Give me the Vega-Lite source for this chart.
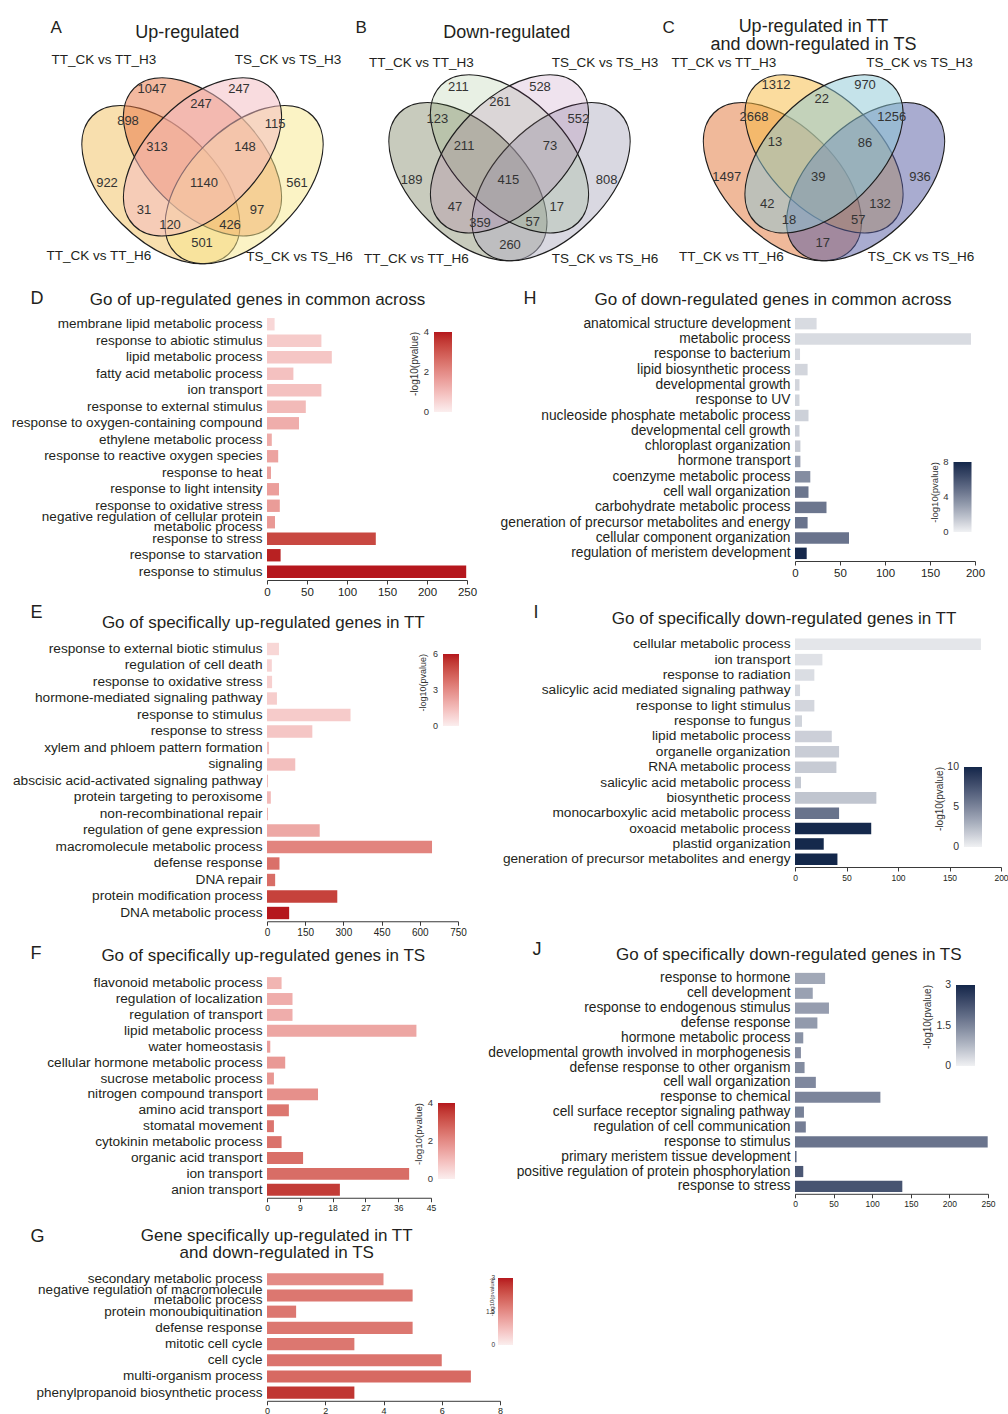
{
  "$schema": "https://vega.github.io/schema/vega-lite/v6.json",
  "background": "white",
  "padding": {"left": 11, "top": 0, "right": 0, "bottom": 0},
  "config": {
    "font": "Liberation Sans",
    "view": {"stroke": null},
    "axis": {"labelFont": "Liberation Sans", "titleFont": "Liberation Sans", "labelColor": "#231f20", "titleColor": "#231f20", "domainColor": "#3a3a3a", "tickColor": "#3a3a3a", "grid": false, "titleFontWeight": "normal"},
    "legend": {"labelFont": "Liberation Sans", "titleFont": "Liberation Sans", "labelColor": "#333333", "titleColor": "#333333", "titleFontWeight": "normal", "titleAnchor": "end", "titleAlign": "right"},
    "title": {"font": "Liberation Sans", "fontWeight": "normal", "color": "#231f20"},
    "text": {"font": "Liberation Sans"}
  },
  "datasets": {
    "venn": [
      {"panel": "A", "kind": "ellipse", "name": "TT_CK vs TT_H6", "x": 160.9, "y": 184.6},
      {"panel": "A", "kind": "ellipse", "name": "TT_CK vs TT_H3", "x": 202.5, "y": 156.9},
      {"panel": "A", "kind": "ellipse", "name": "TS_CK vs TS_H6", "x": 244.1, "y": 184.6},
      {"panel": "A", "kind": "ellipse", "name": "TS_CK vs TS_H3", "x": 202.5, "y": 156.9},
      {"panel": "A", "kind": "label", "name": "TT_CK vs TT_H3", "x": 104, "y": 60},
      {"panel": "A", "kind": "label", "name": "TS_CK vs TS_H3", "x": 288, "y": 60},
      {"panel": "A", "kind": "label", "name": "TT_CK vs TT_H6", "x": 99, "y": 256},
      {"panel": "A", "kind": "label", "name": "TS_CK vs TS_H6", "x": 299.5, "y": 257},
      {"panel": "A", "kind": "count", "name": "1047", "x": 152, "y": 89},
      {"panel": "A", "kind": "count", "name": "247", "x": 239, "y": 89},
      {"panel": "A", "kind": "count", "name": "247", "x": 201, "y": 104},
      {"panel": "A", "kind": "count", "name": "898", "x": 128, "y": 121},
      {"panel": "A", "kind": "count", "name": "115", "x": 275, "y": 124},
      {"panel": "A", "kind": "count", "name": "313", "x": 157, "y": 147},
      {"panel": "A", "kind": "count", "name": "148", "x": 245, "y": 147},
      {"panel": "A", "kind": "count", "name": "922", "x": 107, "y": 183},
      {"panel": "A", "kind": "count", "name": "1140", "x": 204, "y": 183},
      {"panel": "A", "kind": "count", "name": "561", "x": 297, "y": 183},
      {"panel": "A", "kind": "count", "name": "31", "x": 144, "y": 210},
      {"panel": "A", "kind": "count", "name": "97", "x": 257, "y": 210},
      {"panel": "A", "kind": "count", "name": "120", "x": 170, "y": 225},
      {"panel": "A", "kind": "count", "name": "426", "x": 230, "y": 225},
      {"panel": "A", "kind": "count", "name": "501", "x": 202, "y": 243},
      {"panel": "B", "kind": "ellipse", "name": "TT_CK vs TT_H6", "x": 467.9, "y": 181.6},
      {"panel": "B", "kind": "ellipse", "name": "TT_CK vs TT_H3", "x": 509.5, "y": 153.9},
      {"panel": "B", "kind": "ellipse", "name": "TS_CK vs TS_H6", "x": 551.1, "y": 181.6},
      {"panel": "B", "kind": "ellipse", "name": "TS_CK vs TS_H3", "x": 509.5, "y": 153.9},
      {"panel": "B", "kind": "label", "name": "TT_CK vs TT_H3", "x": 421.5, "y": 63},
      {"panel": "B", "kind": "label", "name": "TS_CK vs TS_H3", "x": 605, "y": 63},
      {"panel": "B", "kind": "label", "name": "TT_CK vs TT_H6", "x": 416.5, "y": 259},
      {"panel": "B", "kind": "label", "name": "TS_CK vs TS_H6", "x": 605, "y": 259},
      {"panel": "B", "kind": "count", "name": "211", "x": 458.3, "y": 87.3},
      {"panel": "B", "kind": "count", "name": "528", "x": 540, "y": 87.3},
      {"panel": "B", "kind": "count", "name": "261", "x": 500, "y": 101.7},
      {"panel": "B", "kind": "count", "name": "123", "x": 437.3, "y": 119},
      {"panel": "B", "kind": "count", "name": "552", "x": 578.3, "y": 119},
      {"panel": "B", "kind": "count", "name": "211", "x": 464, "y": 146},
      {"panel": "B", "kind": "count", "name": "73", "x": 550, "y": 146},
      {"panel": "B", "kind": "count", "name": "189", "x": 411.7, "y": 180},
      {"panel": "B", "kind": "count", "name": "415", "x": 508.3, "y": 180},
      {"panel": "B", "kind": "count", "name": "808", "x": 606.7, "y": 180},
      {"panel": "B", "kind": "count", "name": "47", "x": 455, "y": 207.3},
      {"panel": "B", "kind": "count", "name": "17", "x": 556.7, "y": 207.3},
      {"panel": "B", "kind": "count", "name": "359", "x": 480, "y": 223.3},
      {"panel": "B", "kind": "count", "name": "57", "x": 532.7, "y": 221.7},
      {"panel": "B", "kind": "count", "name": "260", "x": 510, "y": 245},
      {"panel": "C", "kind": "ellipse", "name": "TT_CK vs TT_H6", "x": 782.4, "y": 181.6},
      {"panel": "C", "kind": "ellipse", "name": "TT_CK vs TT_H3", "x": 824, "y": 153.9},
      {"panel": "C", "kind": "ellipse", "name": "TS_CK vs TS_H6", "x": 865.6, "y": 181.6},
      {"panel": "C", "kind": "ellipse", "name": "TS_CK vs TS_H3", "x": 824, "y": 153.9},
      {"panel": "C", "kind": "label", "name": "TT_CK vs TT_H3", "x": 724, "y": 63},
      {"panel": "C", "kind": "label", "name": "TS_CK vs TS_H3", "x": 919.5, "y": 63},
      {"panel": "C", "kind": "label", "name": "TT_CK vs TT_H6", "x": 731.5, "y": 257},
      {"panel": "C", "kind": "label", "name": "TS_CK vs TS_H6", "x": 921, "y": 257},
      {"panel": "C", "kind": "count", "name": "1312", "x": 776, "y": 85},
      {"panel": "C", "kind": "count", "name": "970", "x": 865, "y": 85},
      {"panel": "C", "kind": "count", "name": "22", "x": 821.7, "y": 99.3},
      {"panel": "C", "kind": "count", "name": "2668", "x": 754, "y": 116.7},
      {"panel": "C", "kind": "count", "name": "1256", "x": 891.7, "y": 116.7},
      {"panel": "C", "kind": "count", "name": "13", "x": 775, "y": 141.7},
      {"panel": "C", "kind": "count", "name": "86", "x": 865, "y": 142.7},
      {"panel": "C", "kind": "count", "name": "1497", "x": 726.7, "y": 176.7},
      {"panel": "C", "kind": "count", "name": "39", "x": 818.3, "y": 176.7},
      {"panel": "C", "kind": "count", "name": "936", "x": 920, "y": 176.7},
      {"panel": "C", "kind": "count", "name": "42", "x": 767.3, "y": 204},
      {"panel": "C", "kind": "count", "name": "132", "x": 880, "y": 204},
      {"panel": "C", "kind": "count", "name": "18", "x": 789, "y": 220},
      {"panel": "C", "kind": "count", "name": "57", "x": 858.3, "y": 220},
      {"panel": "C", "kind": "count", "name": "17", "x": 822.7, "y": 242.7}
    ],
    "D": [
      {"term": "membrane lipid metabolic process", "count": 9.5, "nlp": 0.45},
      {"term": "response to abiotic stimulus", "count": 68, "nlp": 0.7},
      {"term": "lipid metabolic process", "count": 81, "nlp": 0.8},
      {"term": "fatty acid metabolic process", "count": 33, "nlp": 0.9},
      {"term": "ion transport", "count": 68, "nlp": 0.9},
      {"term": "response to external stimulus", "count": 48.5, "nlp": 1.05},
      {"term": "response to oxygen-containing compound", "count": 40, "nlp": 1.3},
      {"term": "ethylene metabolic process", "count": 6, "nlp": 1.35},
      {"term": "response to reactive oxygen species", "count": 14, "nlp": 1.5},
      {"term": "response to heat", "count": 5, "nlp": 1.55},
      {"term": "response to light intensity", "count": 15, "nlp": 1.6},
      {"term": "response to oxidative stress", "count": 16, "nlp": 1.65},
      {"term": "negative regulation of cellular protein metabolic process", "count": 10, "nlp": 1.7},
      {"term": "response to stress", "count": 136, "nlp": 3.3},
      {"term": "response to starvation", "count": 17, "nlp": 3.9},
      {"term": "response to stimulus", "count": 249, "nlp": 4.0}
    ],
    "H": [
      {"term": "anatomical structure development", "count": 24, "nlp": 0.8},
      {"term": "metabolic process", "count": 195.5, "nlp": 0.8},
      {"term": "response to bacterium", "count": 5.6, "nlp": 0.9},
      {"term": "lipid biosynthetic process", "count": 14, "nlp": 1.0},
      {"term": "developmental growth", "count": 5, "nlp": 1.0},
      {"term": "response to UV", "count": 5, "nlp": 1.05},
      {"term": "nucleoside phosphate metabolic process", "count": 15, "nlp": 1.15},
      {"term": "developmental cell growth", "count": 5, "nlp": 1.25},
      {"term": "chloroplast organization", "count": 6, "nlp": 1.4},
      {"term": "hormone transport", "count": 6, "nlp": 2.8},
      {"term": "coenzyme metabolic process", "count": 17, "nlp": 3.7},
      {"term": "cell wall organization", "count": 15, "nlp": 4.6},
      {"term": "carbohydrate metabolic process", "count": 35, "nlp": 4.6},
      {"term": "generation of precursor metabolites and energy", "count": 14, "nlp": 4.7},
      {"term": "cellular component organization", "count": 60, "nlp": 4.7},
      {"term": "regulation of meristem development", "count": 13, "nlp": 7.9}
    ],
    "E": [
      {"term": "response to external biotic stimulus", "count": 47, "nlp": 0.7},
      {"term": "regulation of cell death", "count": 19, "nlp": 0.8},
      {"term": "response to oxidative stress", "count": 20, "nlp": 0.9},
      {"term": "hormone-mediated signaling pathway", "count": 39, "nlp": 1.0},
      {"term": "response to stimulus", "count": 328, "nlp": 1.05},
      {"term": "response to stress", "count": 178, "nlp": 1.2},
      {"term": "xylem and phloem pattern formation", "count": 8, "nlp": 1.3},
      {"term": "signaling", "count": 111, "nlp": 1.4},
      {"term": "abscisic acid-activated signaling pathway", "count": 4, "nlp": 1.5},
      {"term": "protein targeting to peroxisome", "count": 15, "nlp": 1.6},
      {"term": "non-recombinational repair", "count": 4, "nlp": 1.75},
      {"term": "regulation of gene expression", "count": 207, "nlp": 2.1},
      {"term": "macromolecule metabolic process", "count": 648, "nlp": 3.2},
      {"term": "defense response", "count": 49, "nlp": 3.8},
      {"term": "DNA repair", "count": 32, "nlp": 3.9},
      {"term": "protein modification process", "count": 276, "nlp": 5.1},
      {"term": "DNA metabolic process", "count": 87, "nlp": 6.0}
    ],
    "I": [
      {"term": "cellular metabolic process", "count": 180.5, "nlp": 0.5},
      {"term": "ion transport", "count": 26.6, "nlp": 0.7},
      {"term": "response to radiation", "count": 18.8, "nlp": 0.9},
      {"term": "salicylic acid mediated signaling pathway", "count": 4.9, "nlp": 1.1},
      {"term": "response to light stimulus", "count": 18.8, "nlp": 1.2},
      {"term": "response to fungus", "count": 6.8, "nlp": 1.3},
      {"term": "lipid metabolic process", "count": 35.7, "nlp": 1.5},
      {"term": "organelle organization", "count": 42.8, "nlp": 1.6},
      {"term": "RNA metabolic process", "count": 40.2, "nlp": 1.7},
      {"term": "salicylic acid metabolic process", "count": 5.8, "nlp": 1.8},
      {"term": "biosynthetic process", "count": 79, "nlp": 2.0},
      {"term": "monocarboxylic acid metabolic process", "count": 42.8, "nlp": 5.9},
      {"term": "oxoacid metabolic process", "count": 74, "nlp": 9.9},
      {"term": "plastid organization", "count": 27.9, "nlp": 9.9},
      {"term": "generation of precursor metabolites and energy", "count": 41.2, "nlp": 10}
    ],
    "F": [
      {"term": "flavonoid metabolic process", "count": 4, "nlp": 1.15},
      {"term": "regulation of localization", "count": 7, "nlp": 1.3},
      {"term": "regulation of transport", "count": 7, "nlp": 1.3},
      {"term": "lipid metabolic process", "count": 41, "nlp": 1.45},
      {"term": "water homeostasis", "count": 0.9, "nlp": 1.6},
      {"term": "cellular hormone metabolic process", "count": 5, "nlp": 1.7},
      {"term": "sucrose metabolic process", "count": 1.9, "nlp": 1.75},
      {"term": "nitrogen compound transport", "count": 14, "nlp": 1.9},
      {"term": "amino acid transport", "count": 6, "nlp": 2.4},
      {"term": "stomatal movement", "count": 1.9, "nlp": 2.45},
      {"term": "cytokinin metabolic process", "count": 4, "nlp": 2.5},
      {"term": "organic acid transport", "count": 9.9, "nlp": 2.55},
      {"term": "ion transport", "count": 39, "nlp": 2.6},
      {"term": "anion transport", "count": 20, "nlp": 3.5}
    ],
    "J": [
      {"term": "response to hormone", "count": 39, "nlp": 1.0},
      {"term": "cell development", "count": 23, "nlp": 1.1},
      {"term": "response to endogenous stimulus", "count": 44, "nlp": 1.15},
      {"term": "defense response", "count": 29, "nlp": 1.2},
      {"term": "hormone metabolic process", "count": 10.7, "nlp": 1.3},
      {"term": "developmental growth involved in morphogenesis", "count": 7.7, "nlp": 1.35},
      {"term": "defense response to other organism", "count": 12.4, "nlp": 1.4},
      {"term": "cell wall organization", "count": 27, "nlp": 1.45},
      {"term": "response to chemical", "count": 110.6, "nlp": 1.5},
      {"term": "cell surface receptor signaling pathway", "count": 11.6, "nlp": 1.55},
      {"term": "regulation of cell communication", "count": 14, "nlp": 1.6},
      {"term": "response to stimulus", "count": 249.6, "nlp": 1.75},
      {"term": "primary meristem tissue development", "count": 2, "nlp": 1.9},
      {"term": "positive regulation of protein phosphorylation", "count": 10.7, "nlp": 2.2},
      {"term": "response to stress", "count": 139, "nlp": 2.25}
    ],
    "G": [
      {"term": "secondary metabolic process", "count": 4, "nlp": 1.5},
      {"term": "negative regulation of macromolecule metabolic process", "count": 5, "nlp": 1.8},
      {"term": "protein monoubiquitination", "count": 1, "nlp": 1.8},
      {"term": "defense response", "count": 5, "nlp": 1.8},
      {"term": "mitotic cell cycle", "count": 3, "nlp": 1.8},
      {"term": "cell cycle", "count": 6, "nlp": 1.85},
      {"term": "multi-organism process", "count": 7, "nlp": 2.0},
      {"term": "phenylpropanoid biosynthetic process", "count": 3, "nlp": 2.7}
    ]
  },
  "spacing": 19,
  "vconcat": [
    {
      "hconcat": [
        {
          "width": 69, "height": 270,
          "title": {"text": "Up-regulated", "fontSize": 18, "anchor": "middle", "frame": "group", "dx": -114.2, "offset": -42},
          "data": {"name": "venn"},
          "transform": [{"filter": "datum.panel == 'A'"}],
          "encoding": {
            "x": {"field": "x", "type": "quantitative", "scale": {"domain": [267, 336], "nice": false, "zero": false},
                  "axis": {"orient": "top", "title": "A", "domain": false, "ticks": false, "labels": false, "grid": false, "titleX": -217, "titleY": 32, "titleAngle": 0, "titleAlign": "left", "titleBaseline": "alphabetic", "titleFontSize": 17}},
            "y": {"field": "y", "type": "quantitative", "scale": {"domain": [0, 270], "reverse": true, "nice": false, "zero": false}, "axis": null},
            "color": {"field": "name", "type": "nominal", "scale": {"domain": ["TT_CK vs TT_H3", "TS_CK vs TS_H3", "TT_CK vs TT_H6", "TS_CK vs TS_H6"], "range": ["#e77341", "#f3b9bf", "#f1bf5d", "#f7e78b"]}, "legend": null}
          },
          "layer": [
            {"transform": [{"filter": "datum.kind == 'ellipse' && datum.name == 'TT_CK vs TT_H6'"}],
             "mark": {"type": "point", "shape": "M 0.97 0 C 0.97 0.306 0.5357 0.554 0 0.554 C -0.5357 0.554 -0.97 0.306 -0.97 0 C -0.97 -0.306 -0.5357 -0.554 0 -0.554 C 0.5357 -0.554 0.97 -0.306 0.97 0 Z", "size": 40000, "angle": 45, "filled": true, "opacity": 1, "fillOpacity": 0.5, "stroke": "#1e1e1e", "strokeWidth": 1.2}},
            {"transform": [{"filter": "datum.kind == 'ellipse' && datum.name == 'TT_CK vs TT_H3'"}],
             "mark": {"type": "point", "shape": "M 0.97 0 C 0.97 0.306 0.5357 0.554 0 0.554 C -0.5357 0.554 -0.97 0.306 -0.97 0 C -0.97 -0.306 -0.5357 -0.554 0 -0.554 C 0.5357 -0.554 0.97 -0.306 0.97 0 Z", "size": 40000, "angle": 45, "filled": true, "opacity": 1, "fillOpacity": 0.5, "stroke": "#1e1e1e", "strokeWidth": 1.2}},
            {"transform": [{"filter": "datum.kind == 'ellipse' && datum.name == 'TS_CK vs TS_H6'"}],
             "mark": {"type": "point", "shape": "M 0.97 0 C 0.97 0.306 0.5357 0.554 0 0.554 C -0.5357 0.554 -0.97 0.306 -0.97 0 C -0.97 -0.306 -0.5357 -0.554 0 -0.554 C 0.5357 -0.554 0.97 -0.306 0.97 0 Z", "size": 40000, "angle": 315, "filled": true, "opacity": 1, "fillOpacity": 0.5, "stroke": "#1e1e1e", "strokeWidth": 1.2}},
            {"transform": [{"filter": "datum.kind == 'ellipse' && datum.name == 'TS_CK vs TS_H3'"}],
             "mark": {"type": "point", "shape": "M 0.97 0 C 0.97 0.306 0.5357 0.554 0 0.554 C -0.5357 0.554 -0.97 0.306 -0.97 0 C -0.97 -0.306 -0.5357 -0.554 0 -0.554 C 0.5357 -0.554 0.97 -0.306 0.97 0 Z", "size": 40000, "angle": 315, "filled": true, "opacity": 1, "fillOpacity": 0.5, "stroke": "#1e1e1e", "strokeWidth": 1.2}},
            {"transform": [{"filter": "datum.kind == 'count'"}],
             "mark": {"type": "text", "fontSize": 13, "color": "#333333", "baseline": "middle"},
             "encoding": {"text": {"field": "name", "type": "nominal"}, "color": {"value": "#333333"}}},
            {"transform": [{"filter": "datum.kind == 'label'"}],
             "mark": {"type": "text", "fontSize": 13.5, "color": "#231f20", "baseline": "middle"},
             "encoding": {"text": {"field": "name", "type": "nominal"}, "color": {"value": "#231f20"}}}
          ]
        },
        {
          "width": 336, "height": 270,
          "title": {"text": "Down-regulated", "fontSize": 18, "anchor": "middle", "frame": "group", "dx": 2.7, "offset": -42},
          "data": {"name": "venn"},
          "transform": [{"filter": "datum.panel == 'B'"}],
          "encoding": {
            "x": {"field": "x", "type": "quantitative", "scale": {"domain": [336, 672], "nice": false, "zero": false},
                  "axis": {"orient": "top", "title": "B", "domain": false, "ticks": false, "labels": false, "grid": false, "titleX": 19, "titleY": 32, "titleAngle": 0, "titleAlign": "left", "titleBaseline": "alphabetic", "titleFontSize": 17}},
            "y": {"field": "y", "type": "quantitative", "scale": {"domain": [0, 270], "reverse": true, "nice": false, "zero": false}, "axis": null},
            "color": {"field": "name", "type": "nominal", "scale": {"domain": ["TT_CK vs TT_H3", "TS_CK vs TS_H3", "TT_CK vs TT_H6", "TS_CK vs TS_H6"], "range": ["#659b4b", "#94448e", "#91977b", "#b3b1c3"]}, "legend": null}
          },
          "layer": [
            {"transform": [{"filter": "datum.kind == 'ellipse' && datum.name == 'TT_CK vs TT_H6'"}],
             "mark": {"type": "point", "shape": "M 0.97 0 C 0.97 0.306 0.5357 0.554 0 0.554 C -0.5357 0.554 -0.97 0.306 -0.97 0 C -0.97 -0.306 -0.5357 -0.554 0 -0.554 C 0.5357 -0.554 0.97 -0.306 0.97 0 Z", "size": 40000, "angle": 45, "filled": true, "opacity": 1, "fillOpacity": 0.5, "stroke": "#1e1e1e", "strokeWidth": 1.2}},
            {"transform": [{"filter": "datum.kind == 'ellipse' && datum.name == 'TS_CK vs TS_H6'"}],
             "mark": {"type": "point", "shape": "M 0.97 0 C 0.97 0.306 0.5357 0.554 0 0.554 C -0.5357 0.554 -0.97 0.306 -0.97 0 C -0.97 -0.306 -0.5357 -0.554 0 -0.554 C 0.5357 -0.554 0.97 -0.306 0.97 0 Z", "size": 40000, "angle": 315, "filled": true, "opacity": 1, "fillOpacity": 0.5, "stroke": "#1e1e1e", "strokeWidth": 1.2}},
            {"transform": [{"filter": "datum.kind == 'ellipse' && datum.name == 'TT_CK vs TT_H3'"}],
             "mark": {"type": "point", "shape": "M 0.97 0 C 0.97 0.306 0.5357 0.554 0 0.554 C -0.5357 0.554 -0.97 0.306 -0.97 0 C -0.97 -0.306 -0.5357 -0.554 0 -0.554 C 0.5357 -0.554 0.97 -0.306 0.97 0 Z", "size": 40000, "angle": 45, "filled": true, "opacity": 1, "fillOpacity": 0.15, "stroke": "#1e1e1e", "strokeWidth": 1.2}},
            {"transform": [{"filter": "datum.kind == 'ellipse' && datum.name == 'TS_CK vs TS_H3'"}],
             "mark": {"type": "point", "shape": "M 0.97 0 C 0.97 0.306 0.5357 0.554 0 0.554 C -0.5357 0.554 -0.97 0.306 -0.97 0 C -0.97 -0.306 -0.5357 -0.554 0 -0.554 C 0.5357 -0.554 0.97 -0.306 0.97 0 Z", "size": 40000, "angle": 315, "filled": true, "opacity": 1, "fillOpacity": 0.15, "stroke": "#1e1e1e", "strokeWidth": 1.2}},
            {"transform": [{"filter": "datum.kind == 'count'"}],
             "mark": {"type": "text", "fontSize": 13, "color": "#333333", "baseline": "middle"},
             "encoding": {"text": {"field": "name", "type": "nominal"}, "color": {"value": "#333333"}}},
            {"transform": [{"filter": "datum.kind == 'label'"}],
             "mark": {"type": "text", "fontSize": 13.5, "color": "#231f20", "baseline": "middle"},
             "encoding": {"text": {"field": "name", "type": "nominal"}, "color": {"value": "#231f20"}}}
          ]
        },
        {
          "width": 336, "height": 270,
          "title": {"text": ["Up-regulated in TT", "and down-regulated in TS"], "fontSize": 18, "lineHeight": 18, "anchor": "middle", "frame": "group", "dx": -26.5, "offset": -54},
          "data": {"name": "venn"},
          "transform": [{"filter": "datum.panel == 'C'"}],
          "encoding": {
            "x": {"field": "x", "type": "quantitative", "scale": {"domain": [672, 1008], "nice": false, "zero": false},
                  "axis": {"orient": "top", "title": "C", "domain": false, "ticks": false, "labels": false, "grid": false, "titleX": -10, "titleY": 32, "titleAngle": 0, "titleAlign": "left", "titleBaseline": "alphabetic", "titleFontSize": 17}},
            "y": {"field": "y", "type": "quantitative", "scale": {"domain": [0, 270], "reverse": true, "nice": false, "zero": false}, "axis": null},
            "color": {"field": "name", "type": "nominal", "scale": {"domain": ["TT_CK vs TT_H3", "TS_CK vs TS_H3", "TT_CK vs TT_H6", "TS_CK vs TS_H6"], "range": ["#f7b93d", "#8bc7d5", "#e17335", "#5359a1"]}, "legend": null}
          },
          "layer": [
            {"transform": [{"filter": "datum.kind == 'ellipse' && datum.name == 'TT_CK vs TT_H6'"}],
             "mark": {"type": "point", "shape": "M 0.97 0 C 0.97 0.306 0.5357 0.554 0 0.554 C -0.5357 0.554 -0.97 0.306 -0.97 0 C -0.97 -0.306 -0.5357 -0.554 0 -0.554 C 0.5357 -0.554 0.97 -0.306 0.97 0 Z", "size": 40000, "angle": 45, "filled": true, "opacity": 1, "fillOpacity": 0.5, "stroke": "#1e1e1e", "strokeWidth": 1.2}},
            {"transform": [{"filter": "datum.kind == 'ellipse' && datum.name == 'TT_CK vs TT_H3'"}],
             "mark": {"type": "point", "shape": "M 0.97 0 C 0.97 0.306 0.5357 0.554 0 0.554 C -0.5357 0.554 -0.97 0.306 -0.97 0 C -0.97 -0.306 -0.5357 -0.554 0 -0.554 C 0.5357 -0.554 0.97 -0.306 0.97 0 Z", "size": 40000, "angle": 45, "filled": true, "opacity": 1, "fillOpacity": 0.5, "stroke": "#1e1e1e", "strokeWidth": 1.2}},
            {"transform": [{"filter": "datum.kind == 'ellipse' && datum.name == 'TS_CK vs TS_H6'"}],
             "mark": {"type": "point", "shape": "M 0.97 0 C 0.97 0.306 0.5357 0.554 0 0.554 C -0.5357 0.554 -0.97 0.306 -0.97 0 C -0.97 -0.306 -0.5357 -0.554 0 -0.554 C 0.5357 -0.554 0.97 -0.306 0.97 0 Z", "size": 40000, "angle": 315, "filled": true, "opacity": 1, "fillOpacity": 0.5, "stroke": "#1e1e1e", "strokeWidth": 1.2}},
            {"transform": [{"filter": "datum.kind == 'ellipse' && datum.name == 'TS_CK vs TS_H3'"}],
             "mark": {"type": "point", "shape": "M 0.97 0 C 0.97 0.306 0.5357 0.554 0 0.554 C -0.5357 0.554 -0.97 0.306 -0.97 0 C -0.97 -0.306 -0.5357 -0.554 0 -0.554 C 0.5357 -0.554 0.97 -0.306 0.97 0 Z", "size": 40000, "angle": 315, "filled": true, "opacity": 1, "fillOpacity": 0.5, "stroke": "#1e1e1e", "strokeWidth": 1.2}},
            {"transform": [{"filter": "datum.kind == 'count'"}],
             "mark": {"type": "text", "fontSize": 13, "color": "#333333", "baseline": "middle"},
             "encoding": {"text": {"field": "name", "type": "nominal"}, "color": {"value": "#333333"}}},
            {"transform": [{"filter": "datum.kind == 'label'"}],
             "mark": {"type": "text", "fontSize": 13.5, "color": "#231f20", "baseline": "middle"},
             "encoding": {"text": {"field": "name", "type": "nominal"}, "color": {"value": "#231f20"}}}
          ]
        }
      ],
      "spacing": 0,
      "bounds": "flush",
      "resolve": {"scale": {"color": "independent"}}
    },
    {
      "columns": 2,
      "bounds": "flush",
      "align": "each",
      "spacing": {"row": 49, "column": 295},
      "resolve": {"scale": {"color": "independent"}, "legend": {"color": "independent"}},
      "concat": [
        {
          "width": 200, "height": 264,
          "data": {"name": "D"},
          "title": {"text": "Go of up-regulated genes in common across", "fontSize": 17, "anchor": "middle", "frame": "group", "dx": -109.5, "offset": -20},
          "mark": {"type": "bar"},
          "encoding": {
            "y": {"field": "term", "type": "nominal", "sort": null, "scale": {"paddingInner": 0.25, "paddingOuter": 0.125, "align": 0.5},
                  "axis": {"title": "D", "titleAngle": 0, "titleX": -237, "titleY": -13, "titleAlign": "left", "titleBaseline": "alphabetic", "titleFontSize": 18, "domain": false, "ticks": false, "labelFontSize": 13.5, "labelPadding": 5, "labelLimit": 400, "labelLineHeight": 10,
                           "labelOffset": {"condition": {"test": "datum.value == 'negative regulation of cellular protein metabolic process'", "value": -5}, "value": 0},
                           "labelExpr": "datum.label == 'negative regulation of cellular protein metabolic process' ? ['negative regulation of cellular protein', 'metabolic process'] : datum.label"}},
            "x": {"field": "count", "type": "quantitative", "scale": {"domain": [0, 250], "nice": false},
                  "axis": {"title": null, "values": [0, 50, 100, 150, 200, 250], "labelFontSize": 11.5, "tickSize": 4, "labelFlush": false, "labelOverlap": false}},
            "color": {"field": "nlp", "type": "quantitative", "scale": {"domain": [0, 4], "range": ["#fbeeee", "#b5171d"]},
                      "legend": {"orient": "none", "legendX": 143, "legendY": 16, "direction": "vertical", "gradientLength": 80, "gradientThickness": 18, "values": [0, 2, 4], "labelExpr": "'' + datum.value", "title": "-log10(pvalue)", "titleOrient": "left", "titlePadding": 13, "titleFontSize": 10, "labelFontSize": 9.5, "labelOffset": -23, "gradientStrokeWidth": 0,
                                 "encode": {"title": {"update": {"angle": {"value": -90}}}, "labels": {"update": {"align": {"value": "right"}, "baseline": {"value": "middle"}}}}}}
          }
        },
        {
          "width": 180, "height": 245,
          "data": {"name": "H"},
          "title": {"text": "Go of down-regulated genes in common across", "fontSize": 17, "anchor": "middle", "frame": "group", "dx": -112, "offset": -20},
          "mark": {"type": "bar"},
          "encoding": {
            "y": {"field": "term", "type": "nominal", "sort": null, "scale": {"paddingInner": 0.25, "paddingOuter": 0.125, "align": 0.5},
                  "axis": {"title": "H", "titleAngle": 0, "titleX": -272, "titleY": -13, "titleAlign": "left", "titleBaseline": "alphabetic", "titleFontSize": 18, "domain": false, "ticks": false, "labelFontSize": 13.8, "labelPadding": 5, "labelLimit": 400}},
            "x": {"field": "count", "type": "quantitative", "scale": {"domain": [0, 200], "nice": false},
                  "axis": {"title": null, "values": [0, 50, 100, 150, 200], "labelFontSize": 11.5, "tickSize": 4, "labelFlush": false, "labelOverlap": false}},
            "color": {"field": "nlp", "type": "quantitative", "scale": {"domain": [0, 8], "range": ["#f0f1f3", "#13274a"]},
                      "legend": {"orient": "none", "legendX": 135, "legendY": 146, "direction": "vertical", "gradientLength": 70, "gradientThickness": 18, "values": [0, 4, 8], "labelExpr": "'' + datum.value", "title": "-log10(pvalue)", "titleOrient": "left", "titlePadding": 13.5, "titleFontSize": 9.5, "labelFontSize": 9.5, "labelOffset": -23, "gradientStrokeWidth": 0,
                                 "encode": {"title": {"update": {"angle": {"value": -90}}}, "labels": {"update": {"align": {"value": "right"}, "baseline": {"value": "middle"}}}}}}
          }
        },
        {
          "width": 191, "height": 292.25,
          "data": {"name": "E"},
          "title": {"text": "Go of specifically up-regulated genes in TT", "fontSize": 17, "anchor": "middle", "frame": "group", "dx": -99.2, "offset": -29},
          "mark": {"type": "bar"},
          "encoding": {
            "y": {"field": "term", "type": "nominal", "sort": null, "scale": {"paddingInner": 0.25, "paddingOuter": 0.481, "align": 0.87},
                  "axis": {"title": "E", "titleAngle": 0, "titleX": -237, "titleY": -12, "titleAlign": "left", "titleBaseline": "alphabetic", "titleFontSize": 18, "domain": false, "ticks": false, "labelFontSize": 13.7, "labelPadding": 5, "labelLimit": 400}},
            "x": {"field": "count", "type": "quantitative", "scale": {"domain": [0, 750], "nice": false},
                  "axis": {"title": null, "values": [0, 150, 300, 450, 600, 750], "labelFontSize": 10, "tickSize": 4, "labelFlush": false, "labelOverlap": false}},
            "color": {"field": "nlp", "type": "quantitative", "scale": {"domain": [0, 6], "range": ["#fbeeee", "#b5171d"]},
                      "legend": {"orient": "none", "legendX": 152, "legendY": 25, "direction": "vertical", "gradientLength": 72, "gradientThickness": 16, "values": [0, 3, 6], "labelExpr": "'' + datum.value", "title": "-log10(pvalue)", "titleOrient": "left", "titlePadding": 14, "titleFontSize": 9, "labelFontSize": 9, "labelOffset": -21, "gradientStrokeWidth": 0,
                                 "encode": {"title": {"update": {"angle": {"value": -90}}}, "labels": {"update": {"align": {"value": "right"}, "baseline": {"value": "middle"}}}}}}
          }
        },
        {
          "width": 206, "height": 238,
          "data": {"name": "I"},
          "title": {"text": "Go of specifically down-regulated genes in TT", "fontSize": 17, "anchor": "middle", "frame": "group", "dx": -113.9, "offset": -25},
          "mark": {"type": "bar"},
          "encoding": {
            "y": {"field": "term", "type": "nominal", "sort": null, "scale": {"paddingInner": 0.25, "paddingOuter": 0.3724, "align": 0.832},
                  "axis": {"title": "I", "titleAngle": 0, "titleX": -262, "titleY": -12, "titleAlign": "left", "titleBaseline": "alphabetic", "titleFontSize": 18, "domain": false, "ticks": false, "labelFontSize": 13.7, "labelPadding": 5, "labelLimit": 400}},
            "x": {"field": "count", "type": "quantitative", "scale": {"domain": [0, 200], "nice": false},
                  "axis": {"title": null, "values": [0, 50, 100, 150, 200], "labelFontSize": 8.5, "tickSize": 4, "labelFlush": false, "labelOverlap": false}},
            "color": {"field": "nlp", "type": "quantitative", "scale": {"domain": [0, 10], "range": ["#f0f1f3", "#13274a"]},
                      "legend": {"orient": "none", "legendX": 140, "legendY": 138, "direction": "vertical", "gradientLength": 80, "gradientThickness": 18, "values": [0, 5, 10], "labelExpr": "'' + datum.value", "title": "-log10(pvalue)", "titleOrient": "left", "titlePadding": 18, "titleFontSize": 10, "labelFontSize": 10.5, "labelOffset": -23, "gradientStrokeWidth": 0,
                                 "encode": {"title": {"update": {"angle": {"value": -90}}}, "labels": {"update": {"align": {"value": "right"}, "baseline": {"value": "middle"}}}}}}
          }
        },
        {
          "width": 164, "height": 226.75,
          "data": {"name": "F"},
          "title": {"text": "Go of specifically up-regulated genes in TS", "fontSize": 17, "anchor": "middle", "frame": "group", "dx": -85.7, "offset": -20},
          "mark": {"type": "bar"},
          "encoding": {
            "y": {"field": "term", "type": "nominal", "sort": null, "scale": {"paddingInner": 0.25, "paddingOuter": 0.2555, "align": 0.7554},
                  "axis": {"title": "F", "titleAngle": 0, "titleX": -237, "titleY": -12.25, "titleAlign": "left", "titleBaseline": "alphabetic", "titleFontSize": 18, "domain": false, "ticks": false, "labelFontSize": 13.7, "labelPadding": 5, "labelLimit": 400}},
            "x": {"field": "count", "type": "quantitative", "scale": {"domain": [0, 45], "nice": false},
                  "axis": {"title": null, "values": [0, 9, 18, 27, 36, 45], "labelFontSize": 8.5, "tickSize": 4, "labelFlush": false, "labelOverlap": false}},
            "color": {"field": "nlp", "type": "quantitative", "scale": {"domain": [0, 4], "range": ["#fbeeee", "#b5171d"]},
                      "legend": {"orient": "none", "legendX": 147, "legendY": 132, "direction": "vertical", "gradientLength": 76, "gradientThickness": 17, "values": [0, 2, 4], "labelExpr": "'' + datum.value", "title": "-log10(pvalue)", "titleOrient": "left", "titlePadding": 14, "titleFontSize": 9.7, "labelFontSize": 9.5, "labelOffset": -22, "gradientStrokeWidth": 0,
                                 "encode": {"title": {"update": {"angle": {"value": -90}}}, "labels": {"update": {"align": {"value": "right"}, "baseline": {"value": "middle"}}}}}}
          }
        },
        {
          "width": 193, "height": 222.8,
          "data": {"name": "J"},
          "title": {"text": "Go of specifically down-regulated genes in TS", "fontSize": 17, "anchor": "middle", "frame": "group", "dx": -102.7, "offset": -24},
          "mark": {"type": "bar"},
          "encoding": {
            "y": {"field": "term", "type": "nominal", "sort": null, "scale": {"paddingInner": 0.25, "paddingOuter": 0.125, "align": 0.5},
                  "axis": {"title": "J", "titleAngle": 0, "titleX": -263, "titleY": -17, "titleAlign": "left", "titleBaseline": "alphabetic", "titleFontSize": 18, "domain": false, "ticks": false, "labelFontSize": 13.8, "labelPadding": 5, "labelLimit": 400}},
            "x": {"field": "count", "type": "quantitative", "scale": {"domain": [0, 250], "nice": false},
                  "axis": {"title": null, "values": [0, 50, 100, 150, 200, 250], "labelFontSize": 8.5, "tickSize": 4, "labelFlush": false, "labelOverlap": false}},
            "color": {"field": "nlp", "type": "quantitative", "scale": {"domain": [0, 3], "range": ["#f0f1f3", "#13274a"]},
                      "legend": {"orient": "none", "legendX": 128, "legendY": 14, "direction": "vertical", "gradientLength": 81, "gradientThickness": 19, "values": [0, 1.5, 3], "labelExpr": "'' + datum.value", "title": "-log10(pvalue)", "titleOrient": "left", "titlePadding": 22, "titleFontSize": 10, "labelFontSize": 10.5, "labelOffset": -24, "gradientStrokeWidth": 0,
                                 "encode": {"title": {"update": {"angle": {"value": -90}}}, "labels": {"update": {"align": {"value": "right"}, "baseline": {"value": "middle"}}}}}}
          }
        },
        {
          "width": 233, "height": 153.8,
          "data": {"name": "G"},
          "title": {"text": ["Gene specifically up-regulated in TT", "and down-regulated in TS"], "fontSize": 17, "lineHeight": 17, "anchor": "middle", "frame": "group", "dx": -106.8, "offset": -35},
          "mark": {"type": "bar"},
          "encoding": {
            "y": {"field": "term", "type": "nominal", "sort": null, "scale": {"paddingInner": 0.25, "paddingOuter": 0.872, "align": 0.928},
                  "axis": {"title": "G", "titleAngle": 0, "titleX": -237, "titleY": -6, "titleAlign": "left", "titleBaseline": "alphabetic", "titleFontSize": 18, "domain": false, "ticks": false, "labelFontSize": 13.5, "labelPadding": 5, "labelLimit": 400, "labelLineHeight": 10,
                           "labelOffset": {"condition": {"test": "datum.value == 'negative regulation of macromolecule metabolic process'", "value": -5}, "value": 0},
                           "labelExpr": "datum.label == 'negative regulation of macromolecule metabolic process' ? ['negative regulation of macromolecule', 'metabolic process'] : datum.label"}},
            "x": {"field": "count", "type": "quantitative", "scale": {"domain": [0, 8], "nice": false},
                  "axis": {"title": null, "values": [0, 2, 4, 6, 8], "labelFontSize": 9, "tickSize": 4, "labelFlush": false, "labelOverlap": false}},
            "color": {"field": "nlp", "type": "quantitative", "scale": {"domain": [0, 3], "range": ["#fbeeee", "#b5171d"]},
                      "legend": {"orient": "none", "legendX": 222, "legendY": 31, "direction": "vertical", "gradientLength": 67, "gradientThickness": 15, "values": [0, 1.5, 3], "labelExpr": "'' + datum.value", "title": "-log10(pvalue)", "titleOrient": "left", "titlePadding": 2, "titleFontSize": 6, "labelFontSize": 6.5, "labelOffset": -18, "gradientStrokeWidth": 0,
                                 "encode": {"title": {"update": {"angle": {"value": -90}}}, "labels": {"update": {"align": {"value": "right"}, "baseline": {"value": "middle"}}}}}}
          }
        }
      ]
    }
  ]
}
